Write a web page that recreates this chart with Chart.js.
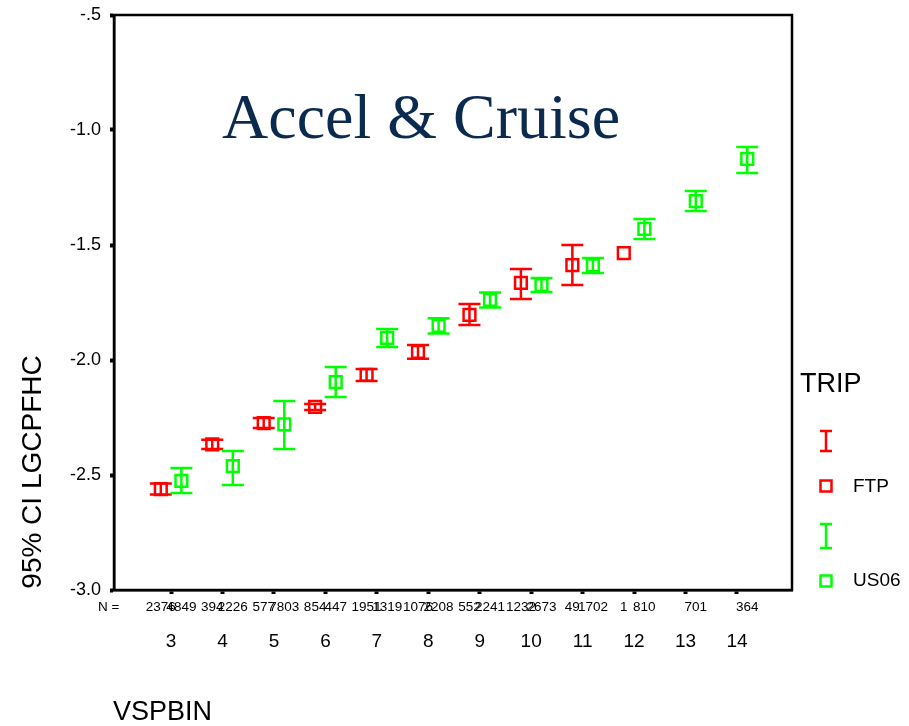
<!doctype html>
<html>

<head>
    <title>Accel & Cruise</title>
    <meta http-equiv="Content-Type" content="text/html;charset=UTF-8">
    <script src="https://cdn.jsdelivr.net/npm/chart.js@4.4.0/dist/chart.umd.min.js"></script>
    <style>
        body { margin: 0; background: #fff; }
    </style>
</head>

<body>
    <canvas id="grafico" width="909" height="726"></canvas>
</body>
<script>

    // VSPBIN categorias
    var categorias = [3, 4, 5, 6, 7, 8, 9, 10, 11, 12, 13, 14];

    // FTP: media e intervalo de 95%
    var ftp_media = [-2.561, -2.367, -2.274, -2.204, -2.065, -1.965, -1.804, -1.665, -1.587, -1.535, null, null];
    var ftp_baixo = [-2.585, -2.387, -2.296, -2.217, -2.091, -1.995, -1.848, -1.735, -1.674, null, null, null];
    var ftp_alto = [-2.537, -2.347, -2.252, -2.191, -2.039, -1.935, -1.757, -1.604, -1.500, null, null, null];
    var ftp_n = ['2376', '394', '577', '854', '1951', '1076', '552', '1232', '49', '1', '', ''];

    // US06: media e intervalo de 95%
    var us06_media = [-2.526, -2.461, -2.280, -2.096, -1.904, -1.852, -1.739, -1.674, -1.589, -1.430, -1.309, -1.126];
    var us06_baixo = [-2.578, -2.543, -2.387, -2.161, -1.943, -1.885, -1.772, -1.704, -1.622, -1.474, -1.352, -1.187];
    var us06_alto = [-2.470, -2.396, -2.178, -2.030, -1.865, -1.819, -1.706, -1.644, -1.556, -1.387, -1.265, -1.074];
    var us06_n = ['4849', '2226', '7803', '447', '1319', '2208', '2241', '2673', '1702', '810', '701', '364'];

    var y_ticks = [-3.0, -2.5, -2.0, -1.5, -1.0, -0.5];

    var deslocamento = 0.2;
    var vermelho = '#ff0000';
    var verde = '#00ff00';

    function monta_pontos(media, baixo, alto, n, desl) {
        var pontos = [];
        for (var i = 0; i < categorias.length; i++) {
            if (media[i] === null) continue;
            pontos.push({ x: categorias[i] + desl, y: media[i], baixo: baixo[i], alto: alto[i], n: n[i] });
        }
        return pontos;
    }

    var barras_erro = {
        id: 'barras_erro',
        beforeDatasetsDraw: function (chart) {
            var ctx = chart.ctx;
            var a = chart.chartArea;
            ctx.save();
            ctx.strokeStyle = '#000';
            ctx.lineWidth = 2.5;
            ctx.strokeRect(a.left, a.top, a.right - a.left, a.bottom - a.top);
            ctx.restore();
        },
        afterDatasetsDraw: function (chart) {
            var ctx = chart.ctx;
            var xs = chart.scales.x, ys = chart.scales.y;
            ctx.save();
            ctx.lineWidth = 2.5;
            chart.data.datasets.forEach(function (ds) {
                ctx.strokeStyle = ds.borderColor;
                ds.data.forEach(function (p) {
                    if (p.baixo === null) return;
                    var px = xs.getPixelForValue(p.x);
                    var y1 = ys.getPixelForValue(p.alto);
                    var y2 = ys.getPixelForValue(p.baixo);
                    ctx.beginPath();
                    ctx.moveTo(px, y1); ctx.lineTo(px, y2);
                    ctx.moveTo(px - 11, y1); ctx.lineTo(px + 11, y1);
                    ctx.moveTo(px - 11, y2); ctx.lineTo(px + 11, y2);
                    ctx.stroke();
                });
            });
            ctx.restore();
        },
        afterDraw: function (chart) {
            var ctx = chart.ctx;
            var xs = chart.scales.x;
            ctx.save();

            // titulo
            ctx.fillStyle = '#0b2a50';
            ctx.font = '64px "Liberation Serif", "Times New Roman", serif';
            ctx.textAlign = 'left';
            ctx.textBaseline = 'alphabetic';
            ctx.fillText('Accel & Cruise', 222, 138);

            // N =
            ctx.fillStyle = '#000';
            ctx.font = '13.5px "Liberation Sans", Arial, sans-serif';
            ctx.fillText('N =', 98, 611);
            ctx.textAlign = 'center';
            chart.data.datasets.forEach(function (ds) {
                ds.data.forEach(function (p) {
                    ctx.fillText(p.n, xs.getPixelForValue(p.x), 611);
                });
            });

            // titulos dos eixos
            ctx.textAlign = 'left';
            ctx.font = '27px "Liberation Sans", Arial, sans-serif';
            ctx.fillText('VSPBIN', 113, 720);
            ctx.save();
            ctx.translate(41, 472);
            ctx.rotate(-Math.PI / 2);
            ctx.textAlign = 'center';
            ctx.font = '28px "Liberation Sans", Arial, sans-serif';
            ctx.fillText('95% CI LGCPFHC', 0, 0);
            ctx.restore();

            // legenda
            ctx.font = '27px "Liberation Sans", Arial, sans-serif';
            ctx.fillText('TRIP', 800, 392);
            ctx.font = '19px "Liberation Sans", Arial, sans-serif';
            ctx.fillText('FTP', 853, 492);
            ctx.fillText('US06', 853, 586);
            ctx.lineWidth = 2.5;
            [[vermelho, 431, 451, 486], [verde, 524, 548, 581]].forEach(function (l) {
                ctx.strokeStyle = l[0];
                ctx.beginPath();
                ctx.moveTo(826, l[1]); ctx.lineTo(826, l[2]);
                ctx.moveTo(820, l[1]); ctx.lineTo(832, l[1]);
                ctx.moveTo(820, l[2]); ctx.lineTo(832, l[2]);
                ctx.stroke();
                ctx.strokeRect(820.5, l[3] - 5.5, 11, 11);
            });
            ctx.restore();
        }
    };

    var grafico = {};

    function plota_grafico() {
        var contexto = document.getElementById("grafico");

        grafico = new Chart(contexto, {
            type: 'scatter',
            data: {
                datasets: [
                    {
                        label: 'FTP',
                        data: monta_pontos(ftp_media, ftp_baixo, ftp_alto, ftp_n, -deslocamento),
                        borderColor: vermelho,
                        backgroundColor: 'rgba(0,0,0,0)'
                    },
                    {
                        label: 'US06',
                        data: monta_pontos(us06_media, us06_baixo, us06_alto, us06_n, deslocamento),
                        borderColor: verde,
                        backgroundColor: 'rgba(0,0,0,0)'
                    }
                ]
            },
            options: {
                responsive: false,
                animation: false,
                devicePixelRatio: 1,
                layout: { padding: { top: 15, right: 117, left: 0, bottom: 0 } },
                elements: {
                    point: { pointStyle: 'rect', radius: 8.3, borderWidth: 2.5, hoverRadius: 8.3 }
                },
                plugins: {
                    legend: { display: false },
                    tooltip: { enabled: false }
                },
                scales: {
                    x: {
                        type: 'linear',
                        min: 1.89,
                        max: 15.07,
                        afterFit: function (s) {
                            s.height = 136;
                            s.paddingLeft = 0; s.paddingRight = 0;
                        },
                        afterBuildTicks: function (s) { s.ticks = categorias.map(function (v) { return { value: v }; }); },
                        ticks: {
                            color: '#000',
                            font: { family: '"Liberation Sans", Arial, sans-serif', size: 19 },
                            padding: 36,
                            maxRotation: 0,
                            callback: function (v) { return String(v); }
                        },
                        grid: { display: true, drawOnChartArea: false, tickLength: 4, tickWidth: 4, tickColor: '#000' },
                        border: { color: '#000', width: 2.5 }
                    },
                    y: {
                        min: -3,
                        max: -0.5,
                        afterFit: function (s) {
                            s.width = 114;
                            s.paddingTop = 0; s.paddingBottom = 0;
                        },
                        afterBuildTicks: function (s) { s.ticks = y_ticks.map(function (v) { return { value: v }; }); },
                        ticks: {
                            color: '#000',
                            font: { family: '"Liberation Sans", Arial, sans-serif', size: 18 },
                            padding: 9,
                            callback: function (v) { return v === -0.5 ? '-.5' : v.toFixed(1); }
                        },
                        grid: { display: true, drawOnChartArea: false, tickLength: 4, tickWidth: 4, tickColor: '#000' },
                        border: { color: '#000', width: 2.5 }
                    }
                }
            },
            plugins: [barras_erro]
        });
    }

    plota_grafico();
</script>

</html>
